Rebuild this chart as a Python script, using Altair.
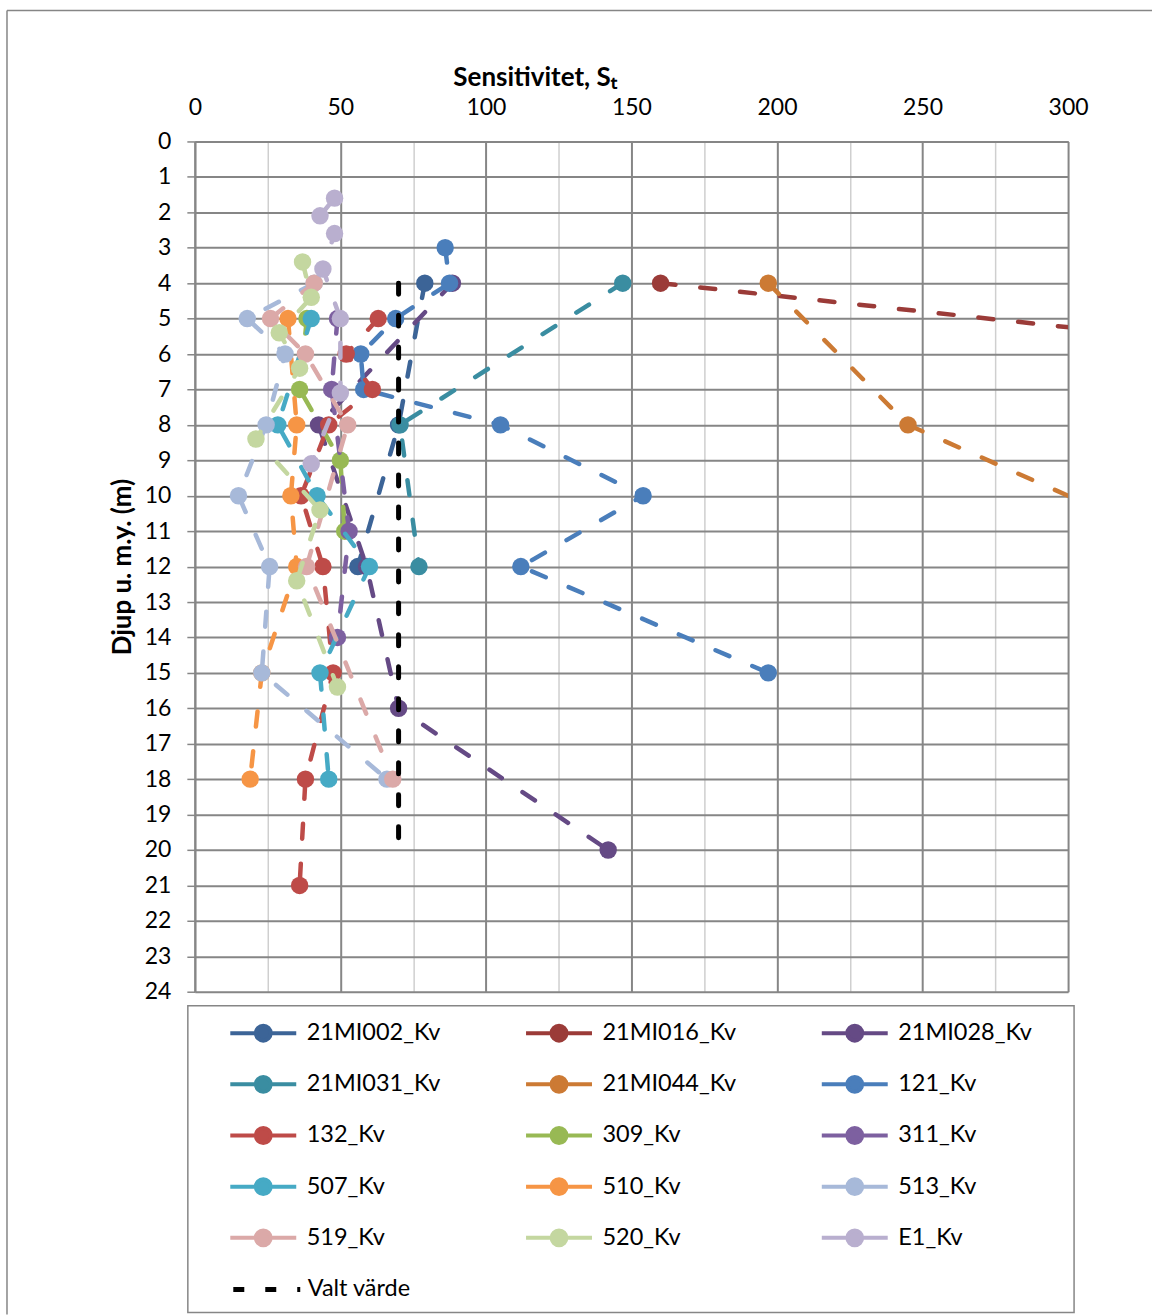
import altair as alt
import pandas as pd

# ---- data ----
names = ["21MI002_Kv", "21MI016_Kv", "21MI028_Kv", "21MI031_Kv", "21MI044_Kv",
         "121_Kv", "132_Kv", "309_Kv", "311_Kv", "507_Kv", "510_Kv", "513_Kv",
         "519_Kv", "520_Kv", "E1_Kv"]
colors = ["#3C6497", "#9B3B38", "#654A85", "#3A8DA1", "#CC7A34",
          "#4A7EBB", "#BE4B48", "#98B954", "#7D60A0", "#46AAC5", "#F69545", "#A7B9D9",
          "#DBA9A8", "#C4D7A0", "#B9AFCF"]

depth_21MI002 = [4, 8, 12]
st_21MI002 = [79, 70, 56]
depth_21MI016 = [4, 6]
st_21MI016 = [160, 385]
depth_21MI028 = [4, 8, 12, 16, 20]
st_21MI028 = [88.5, 42.5, 59, 70, 142]
depth_21MI031 = [4, 8, 12]
st_21MI031 = [147, 70.5, 77]
depth_21MI044 = [4, 8, 12]
st_21MI044 = [197, 245, 355]
depth_121 = [3, 4, 5, 6, 7, 8, 10, 12, 15]
st_121 = [86, 87.5, 69, 57, 58, 105, 154, 112, 197]
depth_132 = [5, 6, 7, 8, 10, 12, 15, 18, 21]
st_132 = [63, 52, 61, 46, 36.5, 44, 47.5, 38, 36]
depth_309 = [5, 7, 9, 11]
st_309 = [38.5, 36, 50, 51.5]
depth_311 = [5, 7, 11, 14]
st_311 = [49, 47, 53, 49]
depth_507 = [5, 8, 10, 12, 15, 18]
st_507 = [40, 28.5, 42, 60, 43, 46]
depth_510 = [5, 8, 10, 12, 15, 18]
st_510 = [32, 35, 33, 35, 23, 19]
depth_513 = [4, 5, 6, 8, 10, 12, 15, 18]
st_513 = [41, 18, 31, 24.5, 15, 25.7, 23, 66]
depth_519 = [4, 5, 6, 8, 12, 18]
st_519 = [41, 26, 38, 52.5, 38.4, 68]
depth_520 = [3.4, 4.4, 5.4, 6.4, 8.4, 10.4, 12.4, 15.4]
st_520 = [37, 40, 29, 36, 21, 43, 35, 49]
depth_E1 = [1.6, 2.1, 2.6, 3.6, 5, 7.1, 9.1]
st_E1 = [48, 43, 48, 44, 50, 50, 40]

valt_name = "Valt värde"
valt_depth = [4, 20]
valt_st = [70, 70]

series_depths = [depth_21MI002, depth_21MI016, depth_21MI028, depth_21MI031, depth_21MI044,
                 depth_121, depth_132, depth_309, depth_311, depth_507, depth_510, depth_513,
                 depth_519, depth_520, depth_E1]
series_st = [st_21MI002, st_21MI016, st_21MI028, st_21MI031, st_21MI044,
             st_121, st_132, st_309, st_311, st_507, st_510, st_513,
             st_519, st_520, st_E1]

rows = []
for name, ds, vs in zip(names, series_depths, series_st):
    for i, (d, v) in enumerate(zip(ds, vs)):
        rows.append({"s": name, "d": d, "v": v, "i": i})
df = pd.DataFrame(rows)
valt_df = pd.DataFrame({"s": [valt_name] * len(valt_depth), "d": valt_depth, "v": valt_st,
                        "i": list(range(len(valt_depth)))})

FONT = "Lato"
GRID = "#868686"

x_axis = alt.Axis(
    orient="top", values=list(range(0, 301, 25)),
    labelExpr="datum.value % 50 === 0 ? datum.label : ''",
    grid=True,
    gridColor={"condition": {"test": "datum.value % 50 === 0", "value": GRID}, "value": "#cfcfcf"},
    gridWidth={"condition": {"test": "datum.value % 50 === 0", "value": 2}, "value": 1.5},
    ticks=False, domain=True, domainColor=GRID, domainWidth=2, labelFlush=False,
    labelFont=FONT, labelFontSize=23, labelColor="black", labelPadding=22,
    title="Sensitivitet, Sₜ", titleFont=FONT, titleFontSize=26, titleFontWeight="bold",
    titleColor="black", titleX=340, titleY=-56, titleAlign="center", titleBaseline="alphabetic",
)
y_axis = alt.Axis(
    values=list(range(0, 25)), grid=True, gridColor=GRID, gridWidth=2,
    ticks=True, tickSize=8, tickColor=GRID, tickWidth=1.5, labelFlush=False,
    domain=True, domainColor=GRID, domainWidth=2,
    labelFont=FONT, labelFontSize=23, labelColor="black", labelPadding=16,
    title="Djup u. m.y. (m)", titleFont=FONT, titleFontSize=26, titleFontWeight="bold",
    titleColor="black", titlePadding=9,
)
X = alt.X("v:Q", scale=alt.Scale(domain=[0, 300], nice=False, zero=False), axis=x_axis)
Y = alt.Y("d:Q", scale=alt.Scale(domain=[0, 24], reverse=True, nice=False, zero=False), axis=y_axis)

legend_path = ("M-2,0L-0.45,0M0.45,0L2,0M0.45,0A0.45,0.45,0,1,1,-0.45,0"
               "A0.45,0.45,0,1,1,0.45,0Z")
color_legend = alt.Legend(
    title=None, orient="none", legendX=50, legendY=874, columns=3, direction="horizontal",
    gridAlign="all", columnPadding=77, rowPadding=17.2,
    symbolType=legend_path, symbolSize=1089, symbolStrokeWidth=4,
    labelFont=FONT, labelFontSize=23.5, labelColor="black", labelOffset=25, labelLimit=300,
    padding=0,
)
C = alt.Color("s:N", scale=alt.Scale(domain=names, range=colors), legend=color_legend)

layers = []
for name in names:
    base = alt.Chart(df).transform_filter(alt.datum.s == name)
    line = base.mark_line(strokeWidth=4.5, strokeDash=[15, 25], strokeCap="round", clip=True).encode(
        x=X, y=Y, color=C, order=alt.Order("i:Q"))
    pts = base.mark_circle(size=305, opacity=1, clip=True).encode(x=X, y=Y, color=C)
    layers += [line, pts]

valt = alt.Chart(valt_df).mark_line(strokeWidth=5, color="black", strokeCap="round").encode(
    x=X, y=Y, order=alt.Order("i:Q"),
    strokeDash=alt.StrokeDash("s:N", scale=alt.Scale(domain=[valt_name], range=[[11, 21]]),
                              legend=alt.Legend(title=None, orient="none", legendX=36, legendY=1113,
                                                symbolType="stroke", symbolSize=4489,
                                                symbolStrokeColor="black", symbolStrokeWidth=5,
                                                labelFont=FONT, labelFontSize=23.5, labelColor="black",
                                                labelOffset=5, padding=0)),
)
layers.append(valt)

one = pd.DataFrame({"a": [0]})
legend_box = alt.Chart(one).mark_rect(fill="transparent", stroke=GRID, strokeWidth=1.5).encode(
    x=alt.value(-7), x2=alt.value(880), y=alt.value(865), y2=alt.value(1172))
frame_left = alt.Chart(one).mark_rule(color=GRID, strokeWidth=1.5).encode(
    x=alt.value(-188), y=alt.value(-131), y2=alt.value(1174))
frame_top = alt.Chart(one).mark_rule(color=GRID, strokeWidth=1.5).encode(
    y=alt.value(-131), x=alt.value(-188), x2=alt.value(958))

chart = alt.layer(legend_box, frame_left, frame_top, *layers).properties(
    width=874, height=851,
    padding={"left": 6, "top": 9, "right": 0, "bottom": 0},
).configure_view(stroke=None).configure(background="white")

chart.save("out.html", embed_options={"renderer": "svg", "actions": False})
